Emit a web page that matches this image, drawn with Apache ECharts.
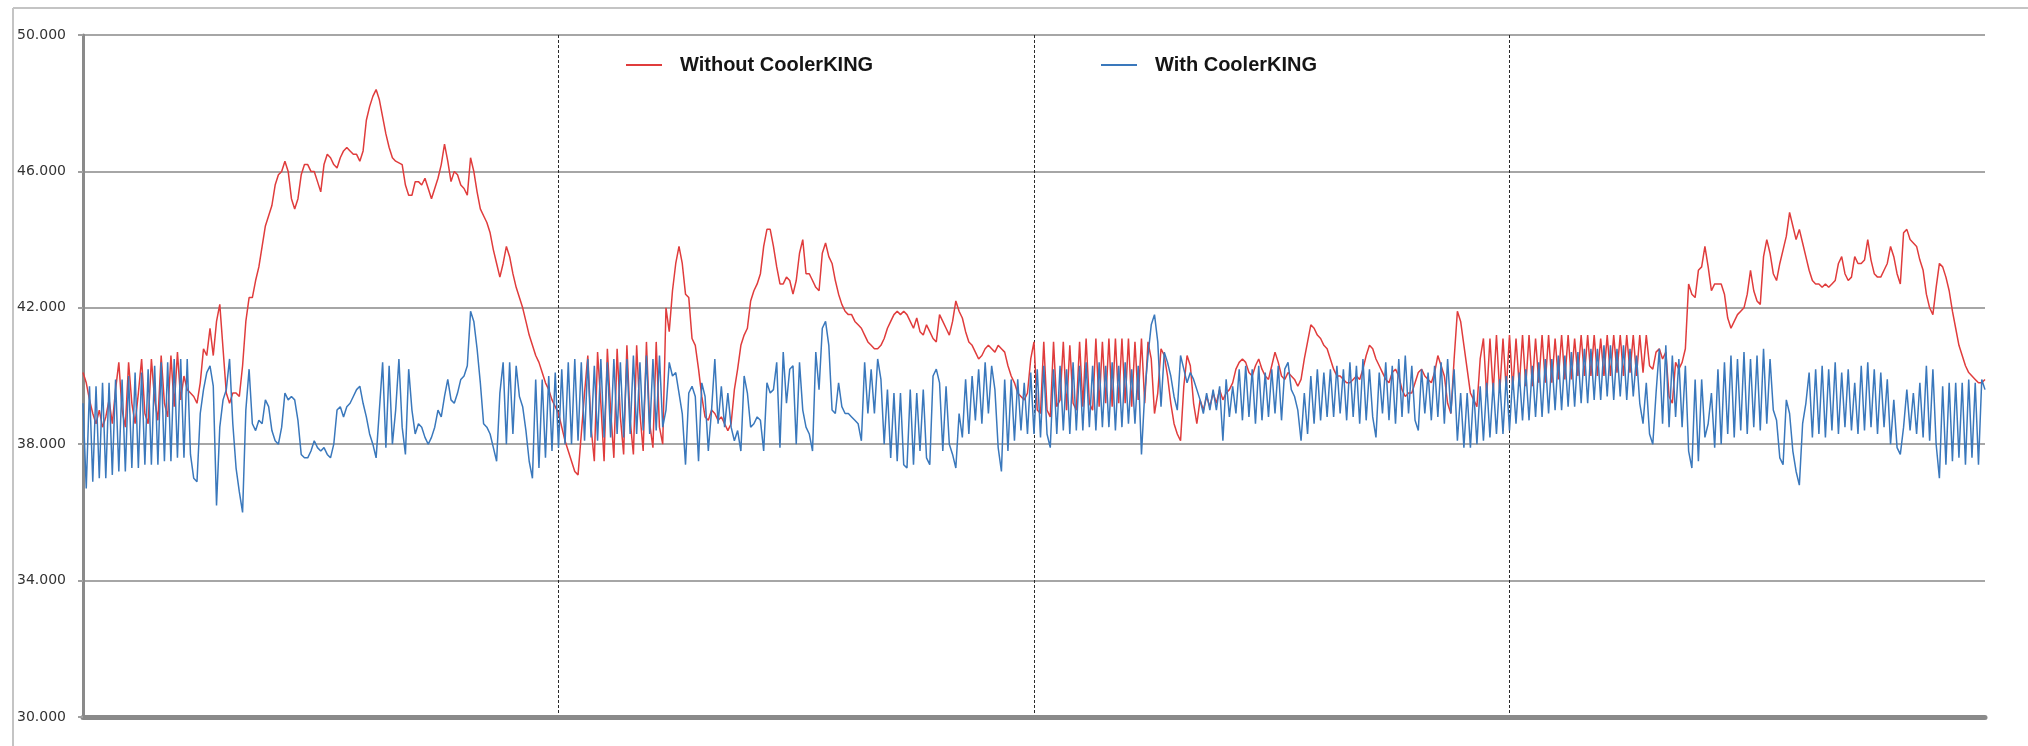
<!DOCTYPE html>
<html>
<head>
<meta charset="utf-8">
<script src="https://cdn.jsdelivr.net/npm/echarts@6/dist/echarts.min.js"></script>
<style>
html,body{margin:0;padding:0;background:#fff;}
#chart{width:2028px;height:746px;}
</style>
</head>
<body>
<div id="chart"></div>
<script>
// Series names
const seriesNames = ['Without CoolerKING', 'With CoolerKING'];
// Y-axis ticks
const yTicks = [30, 34, 38, 42, 46, 50];

// Without CoolerKING (red), one sample per step
const withoutCooler = [
40.1,39.8,39.3,38.9,38.6,39.0,38.5,38.8,39.3,38.6,
39.6,40.4,39.0,38.5,40.4,39.2,38.6,39.5,40.5,38.9,
38.6,40.5,39.3,38.7,40.6,39.2,38.8,40.6,39.1,40.7,
39.3,40.0,39.6,39.5,39.4,39.2,39.8,40.8,40.6,41.4,
40.6,41.6,42.1,40.8,39.5,39.2,39.5,39.5,39.4,40.3,
41.6,42.3,42.3,42.8,43.2,43.8,44.4,44.7,45.0,45.6,
45.9,46.0,46.3,46.0,45.2,44.9,45.2,45.9,46.2,46.2,
46.0,46.0,45.7,45.4,46.2,46.5,46.4,46.2,46.1,46.4,
46.6,46.7,46.6,46.5,46.5,46.3,46.6,47.5,47.9,48.2,
48.4,48.1,47.6,47.1,46.7,46.4,46.3,46.25,46.2,45.6,
45.3,45.3,45.7,45.7,45.6,45.8,45.5,45.2,45.5,45.8,
46.2,46.8,46.3,45.7,46.0,45.9,45.6,45.5,45.3,46.4,
46.0,45.4,44.9,44.7,44.5,44.2,43.7,43.3,42.9,43.3,
43.8,43.5,43.0,42.6,42.3,42.0,41.6,41.2,40.9,40.6,
40.4,40.1,39.8,39.6,39.3,39.1,38.9,38.5,38.1,37.8,
37.5,37.2,37.1,38.3,39.5,40.6,38.5,37.5,40.7,39.2,
37.5,40.8,39.0,37.6,40.8,38.8,37.7,40.9,38.7,37.7,
40.9,38.9,37.8,41.0,38.6,37.9,41.0,38.5,38.0,42.0,
41.3,42.5,43.3,43.8,43.3,42.4,42.3,41.1,40.9,40.2,
39.4,38.8,38.7,39.0,38.9,38.7,38.8,38.6,38.4,38.6,
39.6,40.2,40.9,41.2,41.4,42.2,42.5,42.7,43.0,43.8,
44.3,44.3,43.8,43.2,42.7,42.7,42.9,42.8,42.4,42.8,
43.6,44.0,43.0,43.0,42.8,42.6,42.5,43.6,43.9,43.5,
43.3,42.8,42.4,42.1,41.9,41.8,41.8,41.6,41.5,41.4,
41.2,41.0,40.9,40.8,40.8,40.9,41.1,41.4,41.6,41.8,
41.9,41.8,41.9,41.8,41.6,41.4,41.7,41.3,41.2,41.5,
41.3,41.1,41.0,41.8,41.6,41.4,41.2,41.6,42.2,41.9,
41.7,41.3,41.0,40.9,40.7,40.5,40.6,40.8,40.9,40.8,
40.7,40.9,40.8,40.7,40.3,40.0,39.8,39.5,39.4,39.3,
39.5,40.5,41.0,39.0,38.9,41.0,39.0,38.8,41.0,39.1,
39.3,41.0,39.0,40.9,39.2,39.0,41.0,39.1,41.1,39.2,
39.0,41.1,39.1,41.0,39.2,41.1,39.1,41.1,39.2,41.1,
39.2,41.1,39.1,41.0,39.3,41.1,39.2,41.0,40.5,38.9,
39.5,40.8,40.6,40.0,39.2,38.6,38.3,38.1,39.7,40.6,
40.3,39.2,38.6,39.3,39.0,39.4,39.1,39.5,39.2,39.6,
39.3,39.5,39.6,39.8,40.2,40.4,40.5,40.4,40.1,40.0,
40.3,40.5,40.2,40.0,39.9,40.3,40.7,40.4,40.0,39.9,
40.1,40.0,39.9,39.7,39.9,40.5,41.0,41.5,41.4,41.2,
41.1,40.9,40.8,40.5,40.2,40.0,40.0,39.9,39.8,39.8,
39.9,40.0,39.9,40.2,40.6,40.9,40.8,40.5,40.3,40.1,
39.9,39.8,40.1,40.2,40.0,39.6,39.4,39.5,39.5,39.8,
40.1,40.2,40.0,39.9,39.8,40.1,40.6,40.3,40.0,39.2,
38.9,40.5,41.9,41.6,40.9,40.2,39.5,39.3,39.1,40.5,
41.1,39.4,41.1,39.5,41.2,39.5,41.1,39.6,41.2,39.6,
41.1,39.7,41.2,39.7,41.2,39.7,41.1,39.8,41.2,39.8,
41.2,39.8,41.1,39.9,41.2,39.9,41.2,39.9,41.1,40.0,
41.2,40.0,41.2,40.0,41.2,40.0,41.1,40.0,41.2,40.0,
41.2,40.1,41.2,40.0,41.2,40.1,41.2,40.0,41.2,40.1,
41.2,40.3,40.2,40.7,40.8,40.5,40.7,39.4,39.2,40.4,
40.2,40.4,40.8,42.7,42.4,42.3,43.1,43.2,43.8,43.2,
42.5,42.7,42.7,42.7,42.4,41.7,41.4,41.6,41.8,41.9,
42.0,42.4,43.1,42.5,42.2,42.1,43.5,44.0,43.6,43.0,
42.8,43.3,43.7,44.1,44.8,44.4,44.0,44.3,43.9,43.5,
43.1,42.8,42.7,42.7,42.6,42.7,42.6,42.7,42.8,43.3,
43.5,43.0,42.8,42.9,43.5,43.3,43.3,43.4,44.0,43.4,
43.0,42.9,42.9,43.1,43.3,43.8,43.5,43.0,42.7,44.2,
44.3,44.0,43.9,43.8,43.4,43.1,42.4,42.0,41.8,42.6,
43.3,43.2,42.9,42.5,41.9,41.4,40.9,40.6,40.3,40.1,
40.0,39.9,39.8,39.8,39.9
];

// With CoolerKING (blue), one sample per step
const withCooler = [
39.2,36.7,39.7,36.9,39.7,37.0,39.8,37.0,39.8,37.1,
39.9,37.2,39.9,37.2,40.0,37.3,40.1,37.3,40.1,37.4,
40.2,37.4,40.3,37.4,40.4,37.5,40.4,37.5,40.5,37.6,
40.5,37.6,40.5,37.7,37.0,36.9,38.9,39.6,40.1,40.3,
39.7,36.2,38.5,39.3,39.6,40.5,38.6,37.3,36.6,36.0,
39.0,40.2,38.6,38.4,38.7,38.6,39.3,39.1,38.4,38.1,
38.0,38.5,39.5,39.3,39.4,39.3,38.7,37.7,37.6,37.6,
37.8,38.1,37.9,37.8,37.9,37.7,37.6,38.0,39.0,39.1,
38.8,39.1,39.2,39.4,39.6,39.7,39.2,38.8,38.3,38.0,
37.6,39.0,40.4,37.9,40.3,38.0,39.0,40.5,38.5,37.7,
40.2,39.0,38.3,38.6,38.5,38.2,38.0,38.2,38.5,39.0,
38.8,39.4,39.9,39.3,39.2,39.5,39.9,40.0,40.3,41.9,
41.6,40.8,39.8,38.6,38.5,38.3,37.9,37.5,39.5,40.4,
38.0,40.4,38.3,40.3,39.4,39.1,38.4,37.5,37.0,39.9,
37.3,39.9,37.6,40.0,37.8,40.1,37.9,40.2,38.0,40.4,
38.0,40.5,38.1,40.4,38.1,40.5,38.2,40.3,38.1,40.5,
38.2,40.4,38.2,40.5,38.3,40.4,38.2,40.5,38.3,40.6,
38.3,40.4,38.4,40.6,38.3,40.5,38.4,40.6,38.5,39.0,
40.4,40.0,40.1,39.5,38.9,37.4,39.5,39.7,39.4,37.5,
39.8,39.4,37.8,39.0,40.5,38.6,39.7,38.5,39.5,38.5,
38.1,38.4,37.8,40.0,39.5,38.5,38.6,38.8,38.7,37.8,
39.8,39.5,39.6,40.4,37.9,40.7,39.2,40.2,40.3,38.0,
40.4,39.0,38.5,38.3,37.8,40.7,39.6,41.4,41.6,40.9,
39.0,38.9,39.8,39.1,38.9,38.9,38.8,38.7,38.6,38.1,
40.4,38.9,40.2,38.9,40.5,39.9,38.0,39.6,37.6,39.5,
37.5,39.5,37.4,37.3,39.6,37.4,39.5,37.8,39.6,37.6,
37.4,40.0,40.2,39.8,37.8,39.7,38.0,37.7,37.3,38.9,
38.2,39.9,38.3,40.0,38.7,40.2,38.6,40.4,38.9,40.3,
39.6,37.9,37.2,39.9,37.8,39.9,38.1,39.9,38.4,39.8,
38.3,40.1,38.3,40.2,38.2,40.3,38.3,37.9,40.2,38.3,
40.3,38.4,40.2,38.3,40.4,38.4,40.3,38.4,40.4,38.5,
40.3,38.4,40.4,38.5,40.3,38.5,40.4,38.4,40.3,38.5,
40.4,38.6,40.2,38.6,40.3,37.7,39.5,40.6,41.5,41.8,
41.0,39.1,40.7,40.4,40.0,39.4,39.0,40.6,40.2,39.8,
40.1,39.9,39.6,39.3,38.9,39.5,39.0,39.6,39.0,39.7,
38.1,39.9,38.8,39.7,38.9,40.2,38.7,40.3,38.8,40.2,
38.6,40.3,38.7,40.1,38.8,40.2,38.9,40.3,38.7,40.2,
40.4,39.6,39.4,39.0,38.1,39.5,38.3,40.0,38.6,40.2,
38.7,40.1,38.8,40.2,38.8,40.3,38.9,40.2,38.7,40.4,
38.8,40.3,38.6,40.5,38.7,40.2,38.8,38.2,40.1,38.9,
40.4,38.7,40.3,38.6,40.5,38.8,40.6,38.9,40.3,38.7,
38.4,40.2,38.9,40.1,38.7,40.3,38.8,40.4,38.6,40.5,
38.9,40.2,38.1,39.5,37.9,39.5,37.9,39.6,38.0,39.7,
38.1,39.8,38.2,39.8,38.3,39.9,38.3,40.0,38.4,40.0,
38.6,40.1,38.7,40.2,38.7,40.3,38.8,40.4,38.8,40.5,
38.9,40.5,39.0,40.6,39.0,40.6,39.1,40.7,39.1,40.7,
39.2,40.8,39.2,40.8,39.3,40.8,39.3,40.9,39.4,40.9,
39.3,40.8,39.4,40.9,39.3,40.8,39.4,40.6,39.2,38.6,
39.8,38.3,38.0,39.5,40.8,38.6,40.9,38.5,40.6,38.8,
40.5,38.5,40.3,37.8,37.3,39.9,37.5,39.9,38.2,38.6,
39.5,37.9,40.2,38.0,40.4,38.3,40.6,38.2,40.5,38.4,
40.7,38.3,40.5,38.5,40.6,38.4,40.8,38.6,40.5,39.0,
38.7,37.6,37.4,39.3,38.9,37.8,37.2,36.8,38.6,39.2,
40.1,38.2,40.2,38.3,40.3,38.2,40.2,38.4,40.4,38.3,
40.1,38.5,40.2,38.4,39.8,38.3,40.3,38.4,40.4,38.5,
40.2,38.3,40.1,38.5,39.9,38.0,39.3,37.9,37.7,38.5,
39.6,38.4,39.5,38.3,39.8,38.2,40.3,38.1,40.2,38.0,
37.0,39.7,37.4,39.8,37.5,39.8,37.6,39.8,37.4,39.9,
37.6,39.8,37.4,39.9,39.6
];

const lastIndex = withoutCooler.length - 1; // 584
const quarter = lastIndex / 4;

const chart = echarts.init(document.getElementById('chart'), null, {renderer: 'canvas'});

const legendText = {
  fontFamily: "'Liberation Sans Narrow', 'Arial Narrow', 'Liberation Sans', Arial, sans-serif",
  fontWeight: 'bold',
  fontSize: 20,
  color: '#151515',
  padding: [0, 0, 0, 13]
};

chart.setOption({
  animation: false,
  backgroundColor: '#ffffff',
  graphic: [
    {type: 'line', shape: {x1: 13, y1: 8, x2: 2028, y2: 8}, style: {stroke: '#c4c4c4', lineWidth: 2}, silent: true},
    {type: 'line', shape: {x1: 13, y1: 8, x2: 13, y2: 746}, style: {stroke: '#c4c4c4', lineWidth: 2}, silent: true}
  ],
  legend: [
    {data: [seriesNames[0]], left: 621, top: 50, icon: 'rect', itemWidth: 36, itemHeight: 2, textStyle: legendText},
    {data: [seriesNames[1]], left: 1096, top: 50, icon: 'rect', itemWidth: 36, itemHeight: 2, textStyle: legendText}
  ],
  grid: {left: 83, right: 43, top: 35, bottom: 29, containLabel: false},
  xAxis: {
    type: 'value',
    min: 0,
    max: lastIndex,
    interval: quarter,
    axisLine: {show: true, onZero: false, lineStyle: {color: '#8a8a8a', width: 5}},
    axisTick: {show: false},
    axisLabel: {show: false},
    splitLine: {
      show: true,
      lineStyle: {color: ['rgba(0,0,0,0)', '#2a2a2a', '#2a2a2a', '#2a2a2a', 'rgba(0,0,0,0)'], width: 1, type: [3, 2]}
    }
  },
  yAxis: {
    type: 'value',
    min: yTicks[0],
    max: yTicks[yTicks.length - 1],
    interval: yTicks[1] - yTicks[0],
    axisLine: {show: true, lineStyle: {color: '#8a8a8a', width: 3}},
    axisTick: {show: true, length: 5, lineStyle: {color: '#a0a0a0', width: 2}},
    axisLabel: {
      formatter: v => v.toFixed(3),
      fontFamily: "'DejaVu Sans', sans-serif",
      fontSize: 14,
      color: '#333333',
      margin: 17
    },
    splitLine: {show: true, lineStyle: {color: '#a6a6a6', width: 2}}
  },
  series: [
    {
      name: seriesNames[0],
      type: 'line',
      data: withoutCooler.map((v, i) => [i, v]),
      symbol: 'none',
      lineStyle: {color: '#e03c3c', width: 1.5},
      itemStyle: {color: '#e03c3c'},
      z: 2
    },
    {
      name: seriesNames[1],
      type: 'line',
      data: withCooler.map((v, i) => [i, v]),
      symbol: 'none',
      lineStyle: {color: '#3a78bc', width: 1.5},
      itemStyle: {color: '#3a78bc'},
      z: 3
    }
  ]
});
</script>
</body>
</html>
